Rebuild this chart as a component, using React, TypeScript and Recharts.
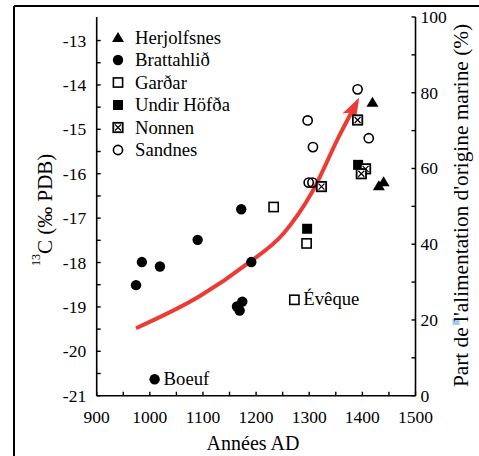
import React from 'react';
import { ComposedChart, Scatter, Line, XAxis, YAxis } from 'recharts';

const FONT = 'Liberation Serif, Tinos, DejaVu Serif, serif';
const RED = '#ec3b35';

// axis ticks
const xTicks = [900, 950, 1000, 1050, 1100, 1150, 1200, 1250, 1300, 1350, 1400, 1450, 1500];
const xLabels = [900, 1000, 1100, 1200, 1300, 1400, 1500];
const leftTicks = [-21, -20.5, -20, -19.5, -19, -18.5, -18, -17.5, -17, -16.5, -16, -15.5, -15, -14.5, -14, -13.5, -13];
const leftLabels = [-21, -20, -19, -18, -17, -16, -15, -14, -13];
const rightTicks = [0, 10, 20, 30, 40, 50, 60, 70, 80, 90, 100];
const rightLabels = [0, 20, 40, 60, 80, 100];

const siteNames = ['Herjolfsnes', 'Brattahlið', 'Garðar', 'Undir Höfða', 'Nonnen', 'Sandnes'];

// year AD vs d13C (per mil PDB)
const herjolfsnes = [
  { year: 1419, d13c: -14.39 },
  { year: 1440, d13c: -16.18 },
  { year: 1431, d13c: -16.27 },
];
const brattahlid = [
  { year: 974, d13c: -18.51 },
  { year: 985, d13c: -17.99 },
  { year: 1019, d13c: -18.09 },
  { year: 1090, d13c: -17.49 },
  { year: 1172, d13c: -16.8 },
  { year: 1191, d13c: -17.99 },
  { year: 1174, d13c: -18.88 },
  { year: 1164, d13c: -18.99 },
  { year: 1169, d13c: -19.08 },
  { year: 1009, d13c: -20.63, note: 'Boeuf' },
];
const gardar = [
  { year: 1233, d13c: -16.75 },
  { year: 1295, d13c: -17.57 },
  { year: 1272, d13c: -18.84, note: 'Évêque' },
];
const undirHofda = [
  { year: 1296, d13c: -17.24 },
  { year: 1392, d13c: -15.8 },
];
const nonnen = [
  { year: 1391, d13c: -14.79 },
  { year: 1406, d13c: -15.89 },
  { year: 1398, d13c: -16.0 },
  { year: 1323, d13c: -16.29 },
];
const sandnes = [
  { year: 1391, d13c: -14.1 },
  { year: 1297, d13c: -14.8 },
  { year: 1412, d13c: -15.2 },
  { year: 1307, d13c: -15.4 },
  { year: 1299, d13c: -16.2 },
  { year: 1306, d13c: -16.2 },
];
// red trend arrow
const trend = [
  { year: 974, d13c: -19.48 },
  { year: 1095, d13c: -18.75 },
  { year: 1183, d13c: -18.03 },
  { year: 1252, d13c: -17.34 },
  { year: 1306, d13c: -16.4 },
  { year: 1356, d13c: -15.16 },
  { year: 1382, d13c: -14.56 },
];

const txt = { fontFamily: FONT };

const note = (p: any) =>
  p.payload && p.payload.note ? (
    <text x={p.cx + 9} y={p.cy + 5.5} style={txt} fontSize={18.7} fill="#000">
      {p.payload.note}
    </text>
  ) : null;

const triangle = (cx: number, cy: number) => (
  <path d={`M${cx},${cy - 5.5} L${cx + 6},${cy + 4.5} L${cx - 6},${cy + 4.5} Z`} fill="#000" />
);
const dot = (cx: number, cy: number) => <circle cx={cx} cy={cy} r={5.2} fill="#000" />;
const ring = (cx: number, cy: number) => (
  <circle cx={cx} cy={cy} r={4.6} fill="none" stroke="#000" strokeWidth={1.6} />
);
const box = (cx: number, cy: number) => (
  <rect x={cx - 4.6} y={cy - 4.6} width={9.2} height={9.2} fill="none" stroke="#000" strokeWidth={1.6} />
);
const block = (cx: number, cy: number) => <rect x={cx - 5} y={cy - 5} width={10} height={10} fill="#000" />;
const crossBox = (cx: number, cy: number) => (
  <g>
    <rect x={cx - 4.7} y={cy - 4.7} width={9.4} height={9.4} fill="#fff" stroke="#000" strokeWidth={1.8} />
    <path d={`M${cx - 3},${cy - 3} L${cx + 3},${cy + 3} M${cx + 3},${cy - 3} L${cx - 3},${cy + 3}`} stroke="#000" strokeWidth={1.2} />
  </g>
);

const markers = [triangle, dot, box, block, crossBox, ring];

const withNote = (draw: (cx: number, cy: number) => React.ReactElement) => (p: any) => (
  <g>
    {draw(p.cx, p.cy)}
    {note(p)}
  </g>
);

const BottomTick = (p: any) => {
  const v = p.payload.value;
  return (
    <g>
      <line x1={p.x} y1={p.y} x2={p.x} y2={p.y - 4} stroke="#000" strokeWidth={1.4} />
      {xLabels.includes(v) && (
        <text x={p.x} y={p.y + 27} textAnchor="middle" style={txt} fontSize={17.5} fill="#000">
          {v}
        </text>
      )}
    </g>
  );
};
const TopTick = (p: any) => (
  <line x1={p.x} y1={p.y} x2={p.x} y2={p.y + 4} stroke="#000" strokeWidth={1.4} />
);
const LeftTick = (p: any) => {
  const v = p.payload.value;
  return (
    <g>
      <line x1={p.x} y1={p.y} x2={p.x + 4} y2={p.y} stroke="#000" strokeWidth={1.4} />
      {leftLabels.includes(v) && (
        <text x={p.x - 10.5} y={p.y + 6} textAnchor="end" style={txt} fontSize={17.5} fill="#000">
          {v}
        </text>
      )}
    </g>
  );
};
const RightTick = (p: any) => {
  const v = p.payload.value;
  return (
    <g>
      <line x1={p.x} y1={p.y} x2={p.x - 4} y2={p.y} stroke="#000" strokeWidth={1.4} />
      {rightLabels.includes(v) && (
        <text x={p.x + 5} y={p.y + 6} textAnchor="start" style={txt} fontSize={17.5} fill="#000">
          {v}
        </text>
      )}
    </g>
  );
};

const SiteLegend = () => (
  <g>
    {siteNames.map((name, i) => {
      const cy = 37.5 + i * 22.5;
      return (
        <g key={name}>
          {markers[i](118, cy)}
          <text x={135} y={cy + 6} style={txt} fontSize={18.7} fill="#000">
            {name}
          </text>
        </g>
      );
    })}
  </g>
);

const axisLine = { stroke: '#000', strokeWidth: 1.6 };

export default function App() {
  return (
    <div style={{ position: 'absolute', left: 0, top: 0, width: 479, height: 456, background: '#fff', fontFamily: FONT }}>
      <ComposedChart width={479} height={456} margin={{ top: 17, right: 0, bottom: 0, left: 0 }} style={txt}>
        <defs>
          <marker
            id="trendHead"
            markerUnits="userSpaceOnUse"
            viewBox="0 0 30 30"
            markerWidth={30}
            markerHeight={30}
            refX={10}
            refY={15}
            orient="auto"
          >
            <path d="M24,15 L2,7.5 L7,15 L2,22.5 Z" fill={RED} />
          </marker>
        </defs>
        <XAxis
          type="number"
          dataKey="year"
          domain={[900, 1500]}
          ticks={xTicks}
          interval={0}
          height={60.3}
          tickSize={0}
          tickMargin={0}
          tickLine={false}
          axisLine={axisLine}
          tick={(p: any) => <BottomTick {...p} />}
          allowDataOverflow
        />
        <XAxis
          xAxisId="top"
          orientation="top"
          type="number"
          dataKey="year"
          domain={[900, 1500]}
          ticks={xTicks}
          interval={0}
          height={0}
          tickSize={0}
          tickMargin={0}
          tickLine={false}
          axisLine={axisLine}
          tick={(p: any) => <TopTick {...p} />}
          allowDataOverflow
        />
        <YAxis
          type="number"
          dataKey="d13c"
          domain={[-21, -12.47]}
          ticks={leftTicks}
          interval={0}
          width={96.7}
          tickSize={0}
          tickMargin={0}
          tickLine={false}
          axisLine={axisLine}
          tick={(p: any) => <LeftTick {...p} />}
          allowDataOverflow
        />
        <YAxis
          yAxisId="right"
          orientation="right"
          type="number"
          domain={[0, 100]}
          ticks={rightTicks}
          interval={0}
          width={63.5}
          tickSize={0}
          tickMargin={0}
          tickLine={false}
          axisLine={axisLine}
          tick={(p: any) => <RightTick {...p} />}
          allowDataOverflow
        />
        <Line
          data={trend}
          dataKey="d13c"
          type="monotone"
          stroke={RED}
          strokeWidth={4}
          dot={false}
          activeDot={false}
          markerEnd="url(#trendHead)"
          isAnimationActive={false}
        />
        <Scatter name={siteNames[0]} data={herjolfsnes} shape={withNote(triangle)} isAnimationActive={false} />
        <Scatter name={siteNames[1]} data={brattahlid} shape={withNote(dot)} isAnimationActive={false} />
        <Scatter name={siteNames[2]} data={gardar} shape={withNote(box)} isAnimationActive={false} />
        <Scatter name={siteNames[3]} data={undirHofda} shape={withNote(block)} isAnimationActive={false} />
        <Scatter name={siteNames[4]} data={nonnen} shape={withNote(crossBox)} isAnimationActive={false} />
        <Scatter name={siteNames[5]} data={sandnes} shape={withNote(ring)} isAnimationActive={false} />
        <SiteLegend />
        {/* figure frame */}
        <line x1={14} y1={6} x2={479} y2={6} stroke="#000" strokeWidth={2} />
        <line x1={14} y1={6} x2={14} y2={456} stroke="#000" strokeWidth={2} />
        <text x={253} y={450} textAnchor="middle" style={txt} fontSize={20} fill="#000">
          Années AD
        </text>
        <text transform="translate(51.5,266) rotate(-90)" style={txt} fill="#000">
          <tspan fontSize={12} dy={-12}>13</tspan>
          <tspan fontSize={21} dy={12}>C (‰ PDB)</tspan>
        </text>
        <rect x={452.5} y={318.5} width={7} height={6.5} fill="#a9c9ea" />
        <text
          transform="translate(468,205.5) rotate(-90)"
          textAnchor="middle"
          style={txt}
          fontSize={21.3}
          fill="#000"
        >
          Part de l'alimentation d'origine marine (%)
        </text>
      </ComposedChart>
    </div>
  );
}
